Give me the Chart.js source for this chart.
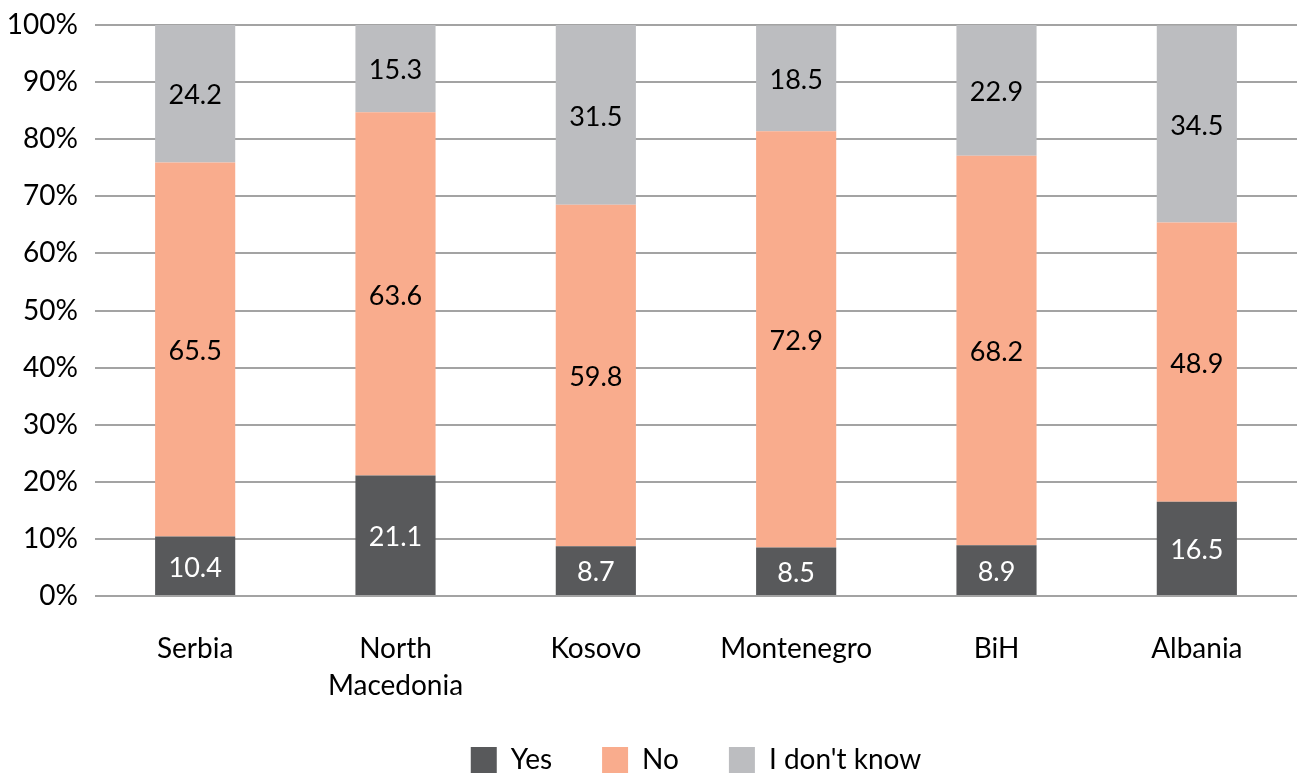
<!DOCTYPE html>
<html>
<head>
<meta charset="utf-8">
<script src="https://cdn.jsdelivr.net/npm/chart.js@4.4.0/dist/chart.umd.min.js"></script>
<style>
  html, body { margin: 0; padding: 0; background: #ffffff; }
  #wrap { width: 1297px; height: 773px; }
</style>
</head>
<body>
<div id="wrap"><canvas id="chart" width="1297" height="773"></canvas></div>
<script>
// Data
const countries = [["Serbia"], ["North", "Macedonia"], ["Kosovo"], ["Montenegro"], ["BiH"], ["Albania"]];
const yesValues = [10.4, 21.1, 8.7, 8.5, 8.9, 16.5];
const noValues = [65.5, 63.6, 59.8, 72.9, 68.2, 48.9];
const dontKnowValues = [24.2, 15.3, 31.5, 18.5, 22.9, 34.5];
const seriesNames = ["Yes", "No", "I don't know"];

const FONT = "Lato, 'Open Sans', sans-serif";

// Draws the value in the middle of each bar segment
const segmentLabels = {
  id: "segmentLabels",
  afterDatasetsDraw(chart) {
    const ctx = chart.ctx;
    ctx.save();
    ctx.font = "27px " + FONT;
    ctx.textAlign = "center";
    ctx.textBaseline = "middle";
    chart.data.datasets.forEach((ds, i) => {
      const meta = chart.getDatasetMeta(i);
      meta.data.forEach((bar, j) => {
        const { x, y, base } = bar.getProps(["x", "y", "base"], true);
        ctx.fillStyle = ds.labelColor;
        ctx.fillText(ds.data[j].toFixed(1), x, (y + base) / 2 + 2);
      });
    });
    ctx.restore();
  },
};

const ctx = document.getElementById("chart").getContext("2d");
new Chart(ctx, {
  type: "bar",
  data: {
    labels: countries,
    datasets: [
      { label: seriesNames[0], data: yesValues, backgroundColor: "#58595b", labelColor: "#ffffff" },
      { label: seriesNames[1], data: noValues, backgroundColor: "#f9ac8d", labelColor: "#000000" },
      { label: seriesNames[2], data: dontKnowValues, backgroundColor: "#bcbdc0", labelColor: "#000000" },
    ],
  },
  options: {
    responsive: false,
    animation: false,
    devicePixelRatio: 1,
    datasets: {
      bar: { categoryPercentage: 1, barPercentage: 0.4, borderWidth: 0 },
    },
    layout: { padding: { top: 0, right: 0, bottom: -11, left: 0 } },
    plugins: {
      tooltip: { enabled: false },
      legend: {
        position: "bottom",
        fullSize: false,
        labels: {
          color: "#000000",
          font: { family: FONT, size: 28 },
          boxWidth: 26,
          boxHeight: 26,
          padding: 50,
        },
      },
    },
    scales: {
      x: {
        stacked: true,
        afterFit(scale) { scale.height = 100; },
        grid: { display: false },
        border: { display: false },
        ticks: {
          color: "#000000",
          font: { family: FONT, size: 28, lineHeight: 1.3 },
          padding: 27,
          maxRotation: 0,
        },
      },
      y: {
        stacked: true,
        min: 0,
        max: 100,
        afterFit(scale) {
          scale.width = 95;
          scale.paddingTop = 25;
          scale.paddingBottom = 0;
        },
        grid: { color: "#a3a3a3", lineWidth: 2, drawTicks: false },
        border: { display: false },
        ticks: {
          stepSize: 10,
          color: "#000000",
          font: { family: FONT, size: 28 },
          padding: 17,
          callback: (v) => v + "%",
        },
      },
    },
  },
  plugins: [segmentLabels],
});
</script>
</body>
</html>
